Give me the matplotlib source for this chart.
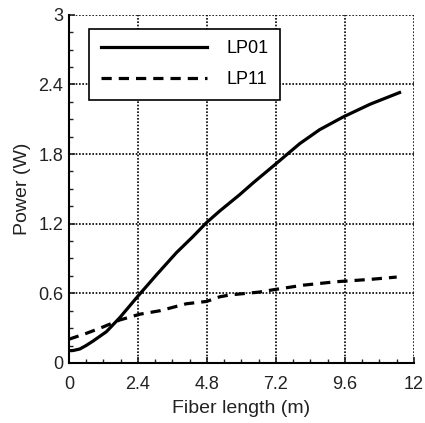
import matplotlib
matplotlib.use("Agg")
import matplotlib.pyplot as plt
from matplotlib.ticker import MultipleLocator

plt.rcParams['font.family'] = ['Liberation Sans', 'DejaVu Sans']

x_lp01 = [0.0, 0.15, 0.38, 0.6, 0.85, 1.08, 1.31, 1.77, 2.4, 3.05, 3.74, 4.32, 4.79,
          5.25, 5.94, 6.4, 7.22, 7.6, 8.03, 8.72, 9.54, 10.48, 11.5]
y_lp01 = [0.105, 0.107, 0.12, 0.15, 0.19, 0.23, 0.27, 0.39, 0.575, 0.76, 0.95, 1.09,
          1.21, 1.31, 1.45, 1.55, 1.72, 1.80, 1.89, 2.01, 2.12, 2.23, 2.33]

x_lp11 = [0.0, 0.61, 1.19, 1.77, 2.47, 3.17, 4.09, 4.79, 5.25, 5.6, 6.6, 7.22,
          8.15, 9.3, 10.48, 11.4]
y_lp11 = [0.204, 0.255, 0.31, 0.37, 0.42, 0.45, 0.51, 0.53, 0.57, 0.586, 0.61, 0.635,
          0.67, 0.70, 0.72, 0.74]

xticks = [0, 2.4, 4.8, 7.2, 9.6, 12]
xtick_labels = ["0", "2.4", "4.8", "7.2", "9.6", "12"]
yticks = [0, 0.6, 1.2, 1.8, 2.4, 3]
ytick_labels = ["0", "0.6", "1.2", "1.8", "2.4", "3"]

fig = plt.figure(figsize=(4.25, 4.23), dpi=100)
ax = fig.add_axes([0.162, 0.142, 0.812, 0.823])

ax.plot(x_lp01, y_lp01, color='black', lw=2.3, label='LP01')
ax.plot(x_lp11, y_lp11, color='black', lw=2.3, ls=(0, (3.2, 2.2)), label='LP11')

ax.set_xlim(0, 12)
ax.set_ylim(0, 3)
ax.set_xticks(xticks)
ax.set_xticklabels(xtick_labels)
ax.set_yticks(yticks)
ax.set_yticklabels(ytick_labels)
ax.xaxis.set_minor_locator(MultipleLocator(0.6))
ax.yaxis.set_minor_locator(MultipleLocator(0.15))
ax.tick_params(which='both', direction='in', top=False, right=False, labelsize=13, colors='#222222')
ax.tick_params(which='major', length=4, width=1.2)
ax.tick_params(which='minor', length=3, width=1.0)
ax.tick_params(axis='x', pad=9.5)
ax.tick_params(axis='y', pad=4)

ax.grid(True, which='major', color='black', ls=(0, (1, 1)), lw=1.2)
ax.spines['top'].set_visible(False)
ax.spines['right'].set_visible(False)
ax.spines['left'].set_linewidth(1.5)
ax.spines['bottom'].set_linewidth(1.5)

ax.set_xlabel('Fiber length (m)', fontsize=14, color='#222222', labelpad=5)
ax.set_ylabel('Power (W)', fontsize=14, color='#222222', labelpad=5)

leg = ax.legend(loc='upper left', bbox_to_anchor=(0.058, 0.96), fontsize=13,
                handlelength=5.9, frameon=True, fancybox=False, edgecolor='black',
                framealpha=1, borderpad=0.65, labelspacing=0.75, handletextpad=1.05,
                borderaxespad=0)
leg.get_frame().set_linewidth(1.2)

fig.savefig('out.png', dpi=100)
